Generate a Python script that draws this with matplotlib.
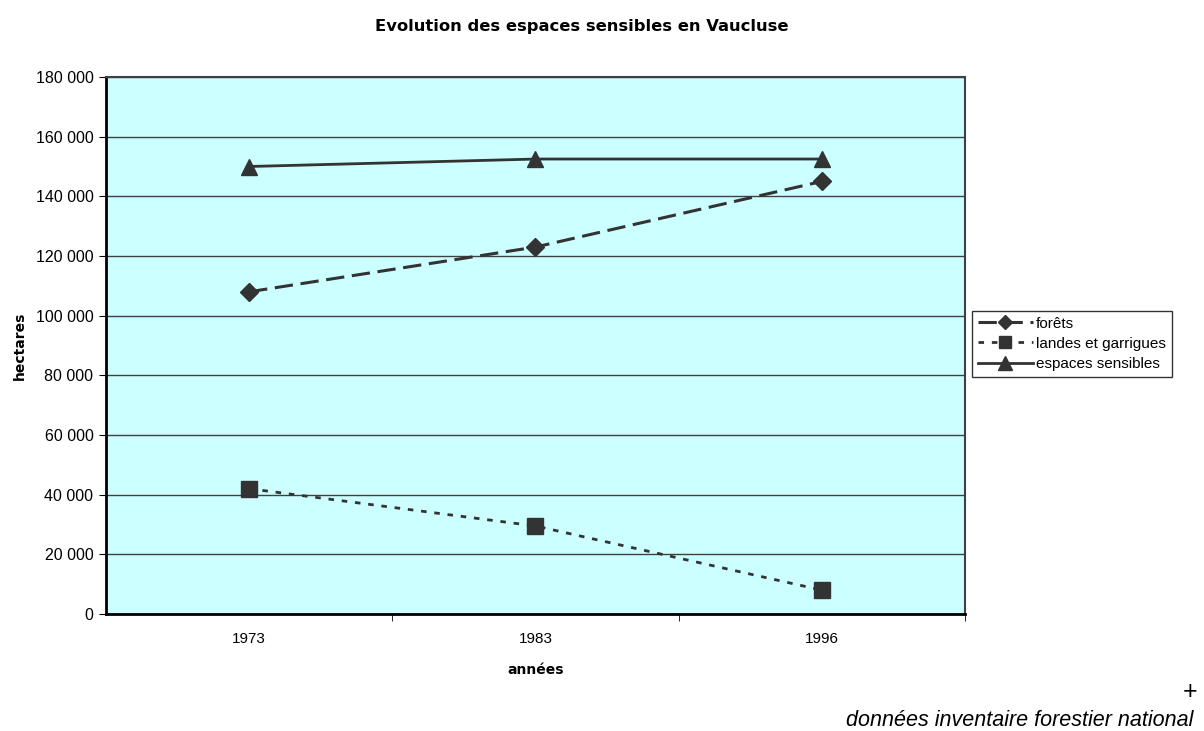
import matplotlib.pyplot as plt
import numpy as np

plt.rcParams['font.family'] = ['Liberation Sans', 'DejaVu Sans']

years = ["1973", "1983", "1996"]
forets = [108000, 123000, 145000]
landes = [42000, 29500, 8000]
espaces = [150000, 152500, 152500]
yticks = np.arange(0, 180001, 20000)

fig = plt.figure(figsize=(12.04, 7.31), dpi=100)
ax = fig.add_axes([106 / 1204, 1 - 614 / 731, 859 / 1204, 537 / 731])
ax.set_facecolor("#CCFFFF")

x = np.arange(len(years))
c = "#333333"
ax.plot(x, forets, color=c, lw=2.2, dashes=(6, 2.5), marker="D", ms=9,
        label="forêts")
ax.plot(x, landes, color=c, lw=2, dashes=(2, 2.8), marker="s", ms=11,
        label="landes et garrigues")
ax.plot(x, espaces, color=c, lw=2, marker="^", ms=12,
        label="espaces sensibles")

ax.set_xlim(-0.5, 2.5)
ax.set_ylim(0, 180000)
ax.set_yticks(yticks)
ax.set_yticklabels(["{:,}".format(v).replace(",", " ") for v in yticks])
ax.set_xticks(x)
ax.set_xticklabels(years)
ax.set_xticks([0.5, 1.5, 2.5], minor=True)
ax.tick_params(axis="x", which="major", length=0, pad=13, labelsize=11)
ax.tick_params(axis="x", which="minor", length=5, direction="out", color="black")
ax.tick_params(axis="y", length=5, direction="out", labelsize=11.5, pad=4)
ax.yaxis.grid(True, color="#404040", lw=1)
ax.set_axisbelow(True)
for s in ["left", "bottom"]:
    ax.spines[s].set_linewidth(2)
    ax.spines[s].set_color("black")
for s in ["top", "right"]:
    ax.spines[s].set_linewidth(1.5)
    ax.spines[s].set_color("#404040")

fig.text(582 / 1204, 1 - 26 / 731, "Evolution des espaces sensibles en Vaucluse",
         fontsize=11.8, fontweight="bold", ha="center", va="center",
         family=["DejaVu Sans"])
ax.set_ylabel("hectares", fontsize=10, fontweight="bold", labelpad=6,
              family=["DejaVu Sans"])
ax.set_xlabel("années", fontsize=10, fontweight="bold", labelpad=12,
              family=["DejaVu Sans"])

leg = ax.legend(loc="upper left", bbox_to_anchor=(1.008, 0.565), fontsize=11,
                frameon=True, fancybox=False, edgecolor="black",
                handlelength=3.6, handletextpad=0.2, borderpad=0.4,
                labelspacing=0.4, borderaxespad=0, markerscale=0.8)
leg.get_frame().set_linewidth(1)

fig.text(1197 / 1204, 1 - 692 / 731, "+", fontsize=18, ha="right", va="center")
fig.text(1193 / 1204, 1 - 721 / 731, "données inventaire forestier national",
         fontsize=15.5, style="italic", ha="right", va="center")

fig.savefig("out.png", dpi=100)
